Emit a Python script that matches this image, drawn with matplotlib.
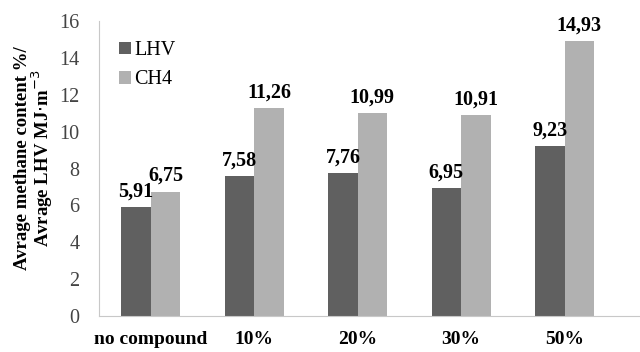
import numpy as np
import matplotlib.pyplot as plt

# Daten
categories = ['no compound', '10%', '20%', '30%', '50%']
lhv = [5.91, 7.58, 7.76, 6.95, 9.23]
ch4 = [6.75, 11.26, 10.99, 10.91, 14.93]

plt.rcParams['font.family'] = ['Liberation Serif', 'DejaVu Serif']

fig = plt.figure(figsize=(6.4, 3.52), dpi=100)
ax = fig.add_axes([99/640, 1 - 316/352, 540/640, 295/352])

x = np.arange(len(categories))
w = 0.285
b1 = ax.bar(x - w/2, lhv, w, color='#606060', label='LHV')
b2 = ax.bar(x + w/2, ch4, w, color='#b1b1b1', label='CH4')

def fmt(v):
    return f'{v:.2f}'.replace('.', ',')

# Werte über den Balken
for bars, vals in ((b1, lhv), (b2, ch4)):
    for r, v in zip(bars, vals):
        ax.text(r.get_x() + r.get_width()/2, v + 0.3, fmt(v),
                ha='center', va='bottom', fontsize=14.5, fontweight='bold')

ax.set_xlim(-0.5, 4.72)
ax.set_ylim(0, 16)
ax.set_yticks(range(0, 17, 2))
ax.set_xticks(x)
ax.set_xticklabels(categories, fontweight='bold', fontsize=14)
ax.tick_params(axis='x', length=0, pad=11)
ax.tick_params(axis='y', length=0, pad=14, labelsize=14.5, labelcolor='#444444')

for s in ['top', 'right']:
    ax.spines[s].set_visible(False)
for s in ['left', 'bottom']:
    ax.spines[s].set_color('#c8c8c8')

ax.set_ylabel('Avrage methane content %/\nAvrage LHV MJ$\\cdot$m$^{-3}$',
              fontweight='bold', fontsize=13.5, linespacing=0.95)
ax.yaxis.set_label_coords(-0.081, 0.535)

ax.legend(loc='upper left', bbox_to_anchor=(0.0, 1.0), frameon=False,
          fontsize=14.5, handlelength=0.6, handleheight=0.6, handletextpad=0.15,
          labelspacing=0.5, borderpad=0.5)

plt.savefig('out.png', dpi=100)
